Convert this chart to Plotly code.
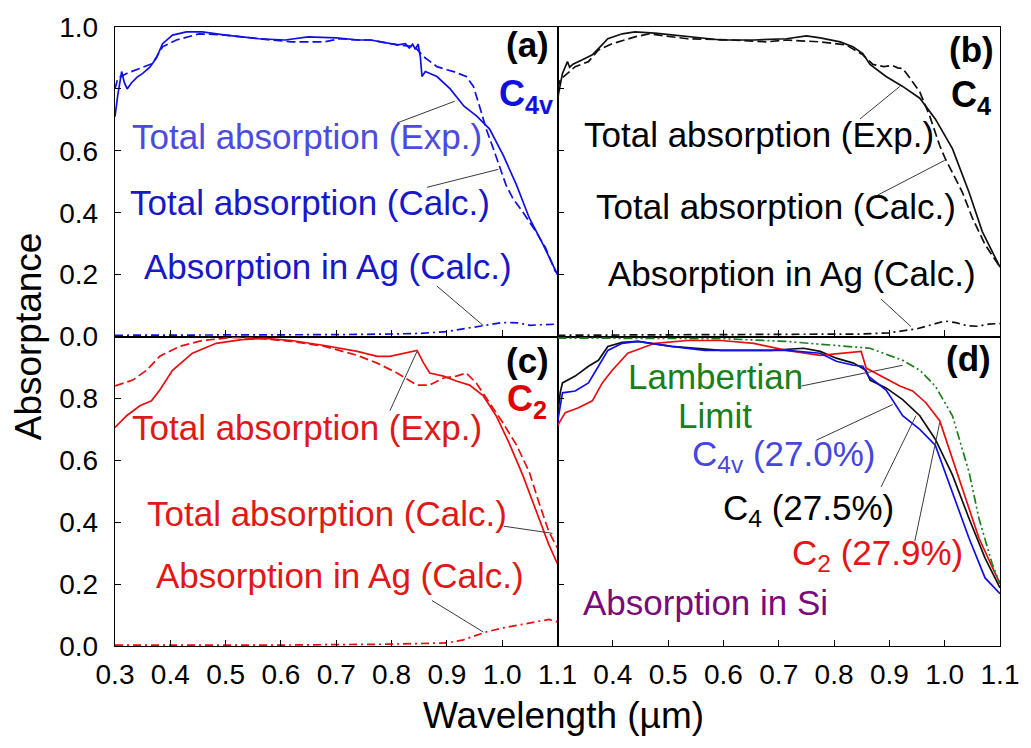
import plotly.graph_objects as go
from plotly.subplots import make_subplots

# ---------------- data (wavelength in µm, absorptance) ----------------
# (a) C4v
A_EXP_WL = [0.300, 0.305, 0.312, 0.317, 0.322, 0.330, 0.340, 0.350, 0.363, 0.375, 0.386, 0.404,
            0.429, 0.458, 0.500, 0.560, 0.608, 0.649, 0.700, 0.740, 0.762, 0.790, 0.811, 0.825,
            0.832, 0.838, 0.843, 0.848, 0.852, 0.855, 0.861, 0.882, 0.906, 0.931, 0.954, 0.977,
            1.002, 1.026, 1.049, 1.074, 1.100]
A_EXP = [0.71, 0.78, 0.856, 0.82, 0.80, 0.82, 0.838, 0.85, 0.87, 0.90, 0.946, 0.974,
         0.984, 0.984, 0.974, 0.962, 0.958, 0.968, 0.965, 0.958, 0.958, 0.950, 0.942, 0.946,
         0.932, 0.944, 0.928, 0.945, 0.904, 0.840, 0.856, 0.840, 0.800, 0.744, 0.712, 0.671,
         0.585, 0.489, 0.383, 0.297, 0.200]
A_CALC_WL = [0.300, 0.305, 0.321, 0.345, 0.368, 0.386, 0.411, 0.452, 0.500, 0.560, 0.619, 0.679,
             0.707, 0.739, 0.762, 0.811, 0.842, 0.858, 0.882, 0.900, 0.912, 0.935, 0.948, 0.959,
             0.971, 0.984, 0.994, 1.007, 1.019, 1.037, 1.061, 1.078, 1.096, 1.100]
A_CALC = [0.80, 0.834, 0.85, 0.866, 0.882, 0.936, 0.958, 0.978, 0.974, 0.962, 0.952, 0.952,
          0.962, 0.958, 0.958, 0.942, 0.936, 0.904, 0.872, 0.862, 0.856, 0.840, 0.808, 0.744,
          0.671, 0.607, 0.553, 0.489, 0.447, 0.403, 0.339, 0.288, 0.211, 0.205]
A_AG_WL = [0.30, 0.50, 0.70, 0.80, 0.85, 0.90, 0.95, 0.97, 1.00, 1.03, 1.05, 1.07, 1.10]
A_AG = [0.004, 0.004, 0.006, 0.008, 0.010, 0.016, 0.030, 0.035, 0.045, 0.044, 0.036, 0.038, 0.040]

# (b) C4
B_EXP_WL = [0.300, 0.302, 0.309, 0.318, 0.322, 0.328, 0.345, 0.363, 0.377, 0.391, 0.417, 0.440,
            0.476, 0.535, 0.596, 0.655, 0.714, 0.750, 0.775, 0.811, 0.834, 0.852, 0.865, 0.894,
            0.924, 0.955, 0.966, 0.983, 1.014, 1.044, 1.068, 1.100]
B_EXP = [0.76, 0.786, 0.85, 0.888, 0.870, 0.880, 0.894, 0.910, 0.936, 0.962, 0.978, 0.984,
         0.980, 0.968, 0.958, 0.958, 0.962, 0.971, 0.965, 0.952, 0.936, 0.914, 0.879, 0.840,
         0.808, 0.770, 0.744, 0.703, 0.607, 0.466, 0.339, 0.224]
B_CALC_WL = [0.300, 0.305, 0.332, 0.356, 0.374, 0.399, 0.440, 0.465, 0.535, 0.614, 0.678, 0.714,
             0.775, 0.822, 0.852, 0.870, 0.890, 0.905, 0.915, 0.924, 0.935, 0.955, 0.973, 0.991,
             1.001, 1.014, 1.032, 1.050, 1.073, 1.100]
B_CALC = [0.80, 0.83, 0.872, 0.888, 0.926, 0.946, 0.968, 0.978, 0.962, 0.958, 0.952, 0.958,
          0.952, 0.942, 0.910, 0.879, 0.872, 0.876, 0.868, 0.866, 0.840, 0.790, 0.712, 0.617,
          0.575, 0.530, 0.466, 0.383, 0.297, 0.224]
B_AG_WL = [0.30, 0.70, 0.85, 0.90, 0.95, 0.98, 1.00, 1.02, 1.04, 1.06, 1.08, 1.10]
B_AG = [0.004, 0.006, 0.008, 0.012, 0.025, 0.040, 0.050, 0.045, 0.035, 0.033, 0.040, 0.042]

# (c) C2
C_EXP_WL = [0.300, 0.321, 0.345, 0.366, 0.381, 0.404, 0.440, 0.483, 0.529, 0.572, 0.619, 0.679,
            0.738, 0.774, 0.797, 0.823, 0.846, 0.858, 0.869, 0.894, 0.917, 0.941, 0.966, 0.989,
            1.012, 1.037, 1.061, 1.084, 1.100]
C_EXP = [0.706, 0.744, 0.776, 0.792, 0.827, 0.891, 0.946, 0.978, 0.990, 0.994, 0.987, 0.971,
         0.952, 0.936, 0.936, 0.946, 0.955, 0.914, 0.882, 0.872, 0.856, 0.843, 0.808, 0.744,
         0.658, 0.553, 0.435, 0.329, 0.265]
C_CALC_WL = [0.300, 0.333, 0.357, 0.381, 0.417, 0.458, 0.512, 0.560, 0.619, 0.679, 0.738, 0.774,
             0.810, 0.846, 0.869, 0.894, 0.917, 0.935, 0.953, 0.977, 1.001, 1.026, 1.049, 1.066,
             1.084, 1.100]
C_CALC = [0.84, 0.86, 0.891, 0.936, 0.968, 0.987, 0.997, 0.994, 0.984, 0.968, 0.939, 0.914,
          0.882, 0.843, 0.843, 0.866, 0.872, 0.882, 0.850, 0.786, 0.722, 0.649, 0.562, 0.466,
          0.371, 0.316]
C_AG_WL = [0.30, 0.60, 0.80, 0.90, 0.93, 0.97, 1.00, 1.04, 1.07, 1.085, 1.10]
C_AG = [0.003, 0.003, 0.006, 0.010, 0.020, 0.045, 0.058, 0.072, 0.082, 0.086, 0.078]

# (d) absorption in Si
D_C4V_WL = [0.300, 0.309, 0.332, 0.356, 0.374, 0.391, 0.417, 0.445, 0.506, 0.566, 0.625, 0.714,
            0.775, 0.804, 0.835, 0.852, 0.862, 0.894, 0.924, 0.955, 0.983, 1.014, 1.044, 1.073, 1.100]
D_C4V = [0.722, 0.818, 0.824, 0.850, 0.904, 0.955, 0.978, 0.984, 0.968, 0.955, 0.955, 0.955,
         0.946, 0.920, 0.907, 0.904, 0.872, 0.827, 0.744, 0.700, 0.649, 0.498, 0.348, 0.220, 0.169]
D_C4_WL = [0.300, 0.305, 0.309, 0.332, 0.356, 0.374, 0.391, 0.417, 0.445, 0.506, 0.596, 0.686,
           0.745, 0.775, 0.804, 0.835, 0.858, 0.865, 0.894, 0.924, 0.955, 0.983, 1.014, 1.044,
           1.073, 1.100]
D_C4 = [0.740, 0.820, 0.850, 0.872, 0.904, 0.923, 0.968, 0.981, 0.984, 0.968, 0.955, 0.955,
        0.962, 0.952, 0.930, 0.914, 0.891, 0.859, 0.834, 0.796, 0.744, 0.668, 0.553, 0.412,
        0.284, 0.188]
D_C2_WL = [0.300, 0.314, 0.338, 0.363, 0.381, 0.399, 0.427, 0.476, 0.535, 0.596, 0.655, 0.714,
           0.775, 0.817, 0.849, 0.858, 0.883, 0.919, 0.942, 0.966, 0.991, 1.014, 1.037, 1.062, 1.100]
D_C2 = [0.712, 0.754, 0.770, 0.792, 0.850, 0.891, 0.946, 0.978, 0.987, 0.987, 0.978, 0.955,
        0.939, 0.946, 0.952, 0.898, 0.875, 0.840, 0.824, 0.786, 0.728, 0.604, 0.476, 0.348, 0.201]
D_LAMB_WL = [0.300, 0.500, 0.600, 0.714, 0.804, 0.865, 0.924, 0.955, 0.983, 1.014, 1.044, 1.062,
             1.086, 1.100]
D_LAMB = [0.995, 0.995, 0.993, 0.984, 0.971, 0.962, 0.923, 0.891, 0.840, 0.744, 0.562, 0.412,
          0.265, 0.201]

X_TICKS = [0.3, 0.4, 0.5, 0.6, 0.7, 0.8, 0.9, 1.0, 1.1]
Y_TICKS = [0.0, 0.2, 0.4, 0.6, 0.8, 1.0]

# ---------------- styling ----------------
FONT = "Liberation Sans, Arial, sans-serif"
BLUE = "#1010e6"
RED = "#e60e0e"
BLACK = "#111111"
GREEN = "#1a7f1a"
DASH = "9px,4px"
DASHDOT = "8px,4px,2px,4px"
DASHDOTDOT = "9px,3px,2px,3px,2px,3px"

fig = make_subplots(rows=2, cols=2, horizontal_spacing=0, vertical_spacing=0)


def add_line(x, y, color, dash, row, col, width=1.7):
    fig.add_trace(go.Scatter(x=x, y=y, mode="lines",
                             line=dict(color=color, width=width, dash=dash),
                             showlegend=False, hoverinfo="skip"),
                  row=row, col=col)


add_line(A_EXP_WL, A_EXP, BLUE, "solid", 1, 1)
add_line(A_CALC_WL, A_CALC, BLUE, DASH, 1, 1)
add_line(A_AG_WL, A_AG, BLUE, DASHDOT, 1, 1)

add_line(B_EXP_WL, B_EXP, BLACK, "solid", 1, 2)
add_line(B_CALC_WL, B_CALC, BLACK, DASH, 1, 2)
add_line(B_AG_WL, B_AG, BLACK, DASHDOT, 1, 2)

add_line(C_EXP_WL, C_EXP, RED, "solid", 2, 1)
add_line(C_CALC_WL, C_CALC, RED, DASH, 2, 1)
add_line(C_AG_WL, C_AG, RED, DASHDOT, 2, 1)

add_line(D_C4_WL, D_C4, BLACK, "solid", 2, 2)
add_line(D_C2_WL, D_C2, RED, "solid", 2, 2)
add_line(D_C4V_WL, D_C4V, BLUE, "solid", 2, 2)
add_line(D_LAMB_WL, D_LAMB, GREEN, DASHDOTDOT, 2, 2)

# ---------------- axes ----------------
axis_common = dict(showline=True, linecolor="black", linewidth=1.4, mirror=True,
                   ticks="inside", ticklen=6, tickwidth=1.3, tickcolor="black",
                   showgrid=False, zeroline=False,
                   tickfont=dict(family=FONT, size=28, color="black"))

for r in (1, 2):
    for c in (1, 2):
        fig.update_xaxes(row=r, col=c, range=[0.3, 1.1], tickvals=X_TICKS,
                         showticklabels=(r == 2), ticklabelstandoff=3, **axis_common)
        fig.update_yaxes(row=r, col=c, range=[0.0, 1.0], tickvals=Y_TICKS,
                         showticklabels=(c == 1), ticklabelstandoff=10, **axis_common)

# bottom-left: no label at 1.0 (shared edge); bottom-right: no label at 0.3
fig.update_yaxes(row=2, col=1, ticktext=["0.0", "0.2", "0.4", "0.6", "0.8", " "])
fig.update_xaxes(row=2, col=2, ticktext=[" "] + [f"{v:.1f}" for v in X_TICKS[1:]])
fig.update_yaxes(row=1, col=1, ticktext=[f"{v:.1f}" for v in Y_TICKS])
fig.update_xaxes(row=2, col=1, ticktext=[f"{v:.1f}" for v in X_TICKS])

# ---------------- annotations ----------------
ann = []


def label(text, x, y, ref, color, size=35, bold=False, anchor="left"):
    t = f"<b>{text}</b>" if bold else text
    ann.append(dict(text=t, x=x, y=y, xref="x" + ref, yref="y" + ref, showarrow=False,
                    xanchor=anchor, yanchor="middle",
                    font=dict(family=FONT, size=size, color=color)))


BLUE_T1 = "#4b4be0"
BLUE_T2 = "#1818c8"
RED_T = "#e01818"

# (a)
label("Total absorption (Exp.)", 0.328, 0.645, "", BLUE_T1)
label("Total absorption (Calc.)", 0.323, 0.432, "", BLUE_T2)
label("Absorption in Ag (Calc.)", 0.348, 0.225, "", BLUE_T2)
label("(a)", 1.045, 0.945, "", "black", size=35, bold=True, anchor="center")
label("C<sub>4v</sub>", 0.991, 0.778, "", "#1010e0", size=36, bold=True)
# (b)
label("Total absorption (Exp.)", 0.345, 0.653, "2", "black")
label("Total absorption (Calc.)", 0.366, 0.420, "2", "black")
label("Absorption in Ag (Calc.)", 0.388, 0.202, "2", "black")
label("(b)", 1.048, 0.928, "2", "black", size=35, bold=True, anchor="center")
label("C<sub>4</sub>", 1.008, 0.775, "2", "black", size=36, bold=True)
# (c)
label("Total absorption (Exp.)", 0.328, 0.707, "3", RED_T)
label("Total absorption (Calc.)", 0.355, 0.429, "3", RED_T)
label("Absorption in Ag (Calc.)", 0.370, 0.228, "3", RED_T)
label("(c)", 1.045, 0.921, "3", "black", size=35, bold=True, anchor="center")
label("C<sub>2</sub>", 1.005, 0.790, "3", "#e00000", size=36, bold=True)
# (d)
label("(d)", 1.043, 0.928, "4", "black", size=35, bold=True, anchor="center")
label("Lambertian", 0.424, 0.870, "4", GREEN)
label("Limit", 0.515, 0.745, "4", GREEN)
label("C<sub>4v</sub> (27.0%)", 0.540, 0.614, "4", "#4646dc")
label("C<sub>4</sub> (27.5%)", 0.596, 0.439, "4", "black")
label("C<sub>2</sub> (27.9%)", 0.721, 0.295, "4", "#e61414")
label("Absorption in Si", 0.343, 0.142, "4", "#7a0a7a")

# axis titles
ann.append(dict(text="Absorptance", x=-0.0974, y=0.5, xref="paper", yref="paper",
                showarrow=False, textangle=-90, xanchor="center", yanchor="middle",
                font=dict(family=FONT, size=37, color="black")))
ann.append(dict(text="Wavelength (\u00b5m)", x=0.507, y=-0.112, xref="paper", yref="paper",
                showarrow=False, xanchor="center", yanchor="middle",
                font=dict(family=FONT, size=37, color="black")))

# leader lines from labels to curves: (x0, y0, x1, y1, axis suffix)
LEADERS = [
    (0.810, 0.690, 0.914, 0.760, ""),
    (0.864, 0.482, 0.993, 0.540, ""),
    (0.882, 0.163, 0.966, 0.035, ""),
    (0.847, 0.703, 0.919, 0.808, "2"),
    (0.879, 0.457, 1.000, 0.569, "2"),
    (0.885, 0.121, 0.939, 0.032, "2"),
    (0.797, 0.760, 0.846, 0.952, "3"),
    (1.003, 0.387, 1.091, 0.364, "3"),
    (0.873, 0.147, 0.966, 0.045, "3"),
    (0.741, 0.840, 0.924, 0.907, "4"),
    (0.768, 0.665, 0.906, 0.780, "4"),
    (0.885, 0.514, 0.948, 0.744, "4"),
    (0.946, 0.339, 0.991, 0.722, "4"),
]
shapes = [dict(type="line", x0=a, y0=b, x1=c, y1=d, xref="x" + s, yref="y" + s,
               line=dict(color="#3a3a3a", width=1)) for a, b, c, d, s in LEADERS]

fig.update_layout(
    width=1031, height=748, autosize=False,
    margin=dict(l=115, r=23, t=20, b=102),
    paper_bgcolor="white", plot_bgcolor="white",
    annotations=ann, shapes=shapes,
    font=dict(family=FONT, color="black"),
    showlegend=False,
)

fig.write_html("out.html")
